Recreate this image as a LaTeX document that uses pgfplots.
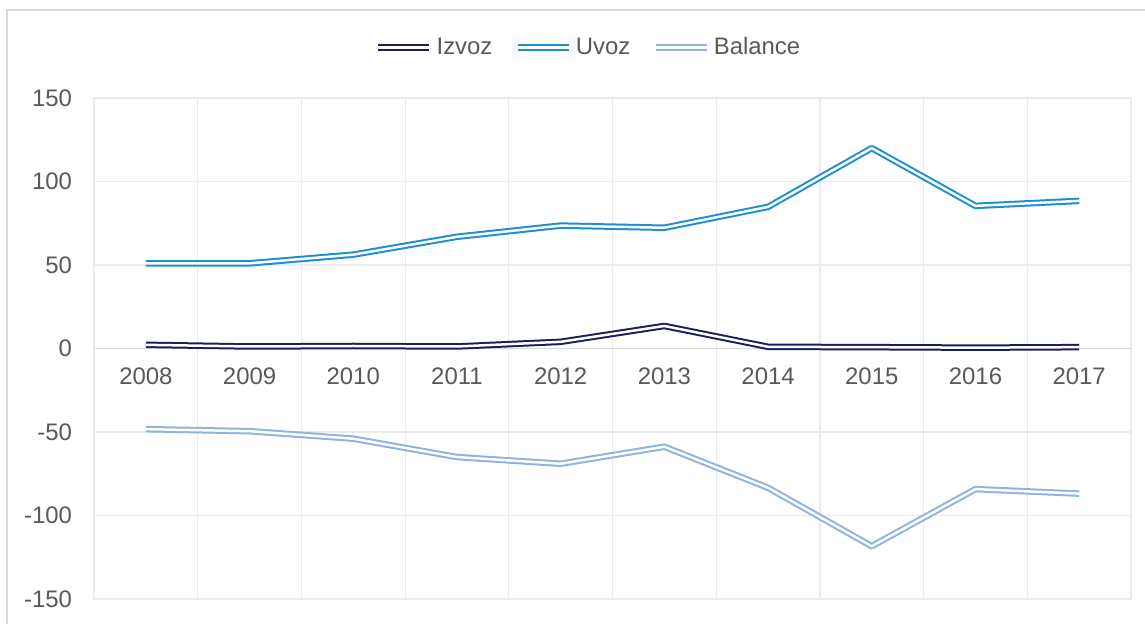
\documentclass[border=0pt]{standalone}
\usepackage{pgfplots}
\pgfplotsset{compat=1.18}
\usepackage{fontspec}
\setmainfont{Liberation Sans}
\definecolor{izvoz}{HTML}{1C1C5E}
\definecolor{uvoz}{HTML}{1B8FD1}
\definecolor{balance}{HTML}{8DB3E2}
\definecolor{gridc}{HTML}{EBEBEB}
\definecolor{zeroc}{HTML}{D9D9D9}
\definecolor{framec}{HTML}{D9D9D9}
\definecolor{labelc}{HTML}{595959}
\begin{document}
\begin{tikzpicture}
\useasboundingbox (0,0) rectangle (572.5bp,312bp);
\fill[white] (0,0) rectangle (572.5bp,312bp);
\draw[framec, line width=0.75bp] (3.5bp,-2bp) -- (3.5bp,307bp) -- (575bp,307bp);
\begin{axis}[
  at={(47bp,12.5bp)}, anchor=south west,
  scale only axis, width=518.5bp, height=250.5bp,
  xmin=-0.5, xmax=9.5, ymin=-150, ymax=150,
  axis line style={draw=gridc, line width=0.6bp},
  xtick={0,1,2,3,4,5,6,7,8,9},
  xticklabels={2008,2009,2010,2011,2012,2013,2014,2015,2016,2017},
  minor xtick={0.5,1.5,2.5,3.5,4.5,5.5,6.5,7.5,8.5},
  xminorgrids=true, ymajorgrids=true,
  ytick={-150,-100,-50,0,50,100,150},
  grid style={draw=gridc, line width=0.6bp},
  minor grid style={draw=gridc, line width=0.6bp},
  tick style={draw=none},
  /pgf/number format/assume math mode=true,
  ticklabel style={font=\fontsize{12}{14}\selectfont, text=labelc},
  xticklabel style={yshift=119bp},
  yticklabel style={xshift=-7.5bp},
  extra y ticks={0}, extra y tick labels={},
  extra y tick style={grid style={draw=zeroc, line width=0.8bp}},
  legend style={at={(0.478,1.101)}, anchor=center, draw=none, fill=none,
    legend columns=-1, font=\fontsize{12}{14}\selectfont, text=labelc,
    /tikz/every even column/.append style={column sep=9bp},
    inner sep=0pt},
  legend image code/.code={\draw[#1] (0bp,0bp) -- (25.5bp,0bp);},
  every axis plot/.append style={double=white, double distance=1.25bp, line width=1bp, line join=round},
]
\addplot[izvoz] coordinates {(0,2.2) (1,1.2) (2,1.5) (3,1.2) (4,4.0) (5,13.5) (6,1.0) (7,0.8) (8,0.5) (9,0.8)};
\addlegendentry{Izvoz}
\addplot[uvoz] coordinates {(0,50.9) (1,51) (2,56.2) (3,66.9) (4,73.6) (5,72.3) (6,84.8) (7,120) (8,85.4) (9,88.4)};
\addlegendentry{Uvoz}
\addplot[balance] coordinates {(0,-48.3) (1,-49.5) (2,-54) (3,-65) (4,-69) (5,-58.8) (6,-83.4) (7,-118.4) (8,-84.2) (9,-86.9)};
\addlegendentry{Balance}
\end{axis}
\end{tikzpicture}
\end{document}
